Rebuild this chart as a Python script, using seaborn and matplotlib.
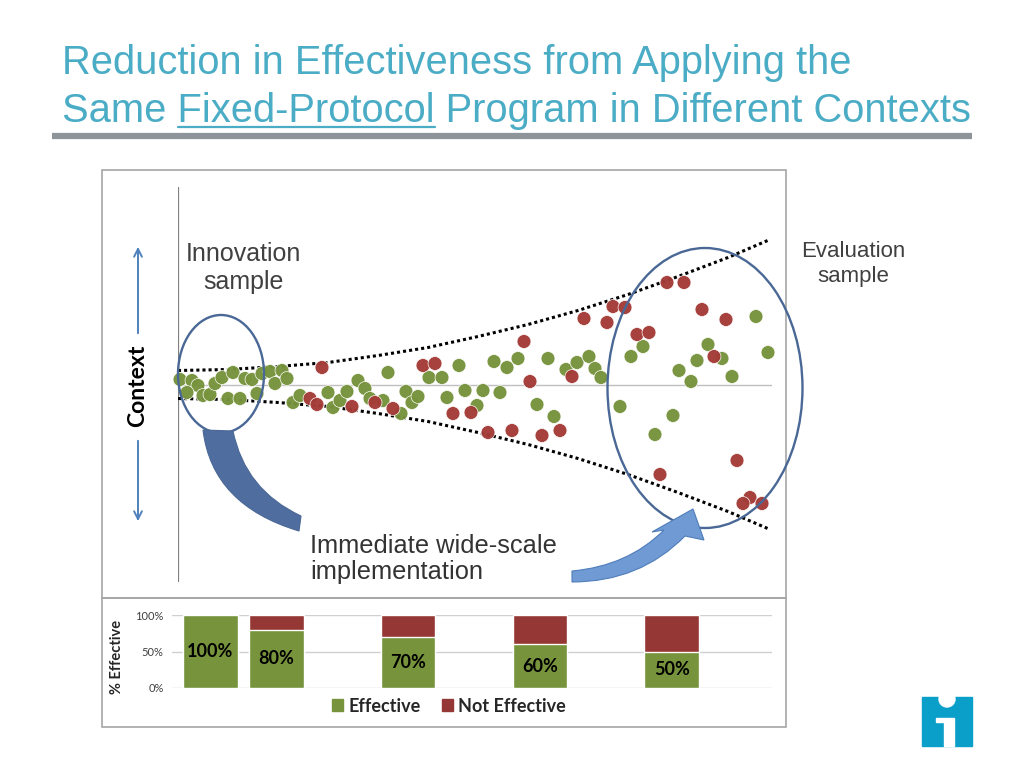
import matplotlib
matplotlib.use('Agg')
import matplotlib.pyplot as plt
import seaborn as sns
import pandas as pd
from matplotlib.patches import Ellipse, Rectangle, PathPatch, Circle, Patch
from matplotlib.path import Path

W, H = 1024, 768

# scatter data: position along the scale-up (x) and context deviation (y)
green_x = [2, 14, 20, 9, 25, 32, 37, 44, 55, 67, 74, 50, 62, 79, 84, 92, 97, 104, 109, 115,
           122, 150, 155, 162, 169, 180, 187, 192, 205, 210, 223, 228, 234, 240, 251, 264, 269,
           281, 287, 299, 305, 316, 322, 329, 340, 359, 370, 376, 388, 399, 411, 417, 423, 442,
           453, 465, 477, 495, 501, 513, 519, 530, 544, 554, 578, 590]
green_y = [5, 4, -1, -8, -11, -10, 1, 7, 12, 6, 5, -14, -14, -9, 11, 13, 1, 14, 6, -18,
           -11, -8, -23, -16, -7, 4, -4, -14, -16, 12, -29, -7, -18, -12, 7, 7, -13,
           19, -6, -21, -6, 23, -8, 17, 26, -20, 26, -32, 15, 22, 28, 16, 7, -22,
           28, 38, -50, -31, 14, 3, 24, 40, 26, 8, 68, 32]
red_x = [144, 132, 139, 174, 197, 215, 245, 257, 275, 293, 310, 334, 346, 352, 364, 382, 394,
         406, 429, 435, 447, 459, 471, 489, 506, 524, 536, 548, 482, 559, 572, 565, 584]
red_y = [17, -14, -20, -22, -18, -24, 19, 21, -29, -28, -48, -46, 43, 3, -51, -46, 8,
         66, 62, 78, 77, 50, 52, 102, 102, 75, 28, 65, -90, -76, -113, -119, -119]

# dotted envelope (half width of context spread)
env_x = [0, 50, 100, 150, 200, 250, 300, 350, 400, 450, 500, 550, 592]
env_half = [14, 15, 18, 22, 29, 37, 48, 60, 74, 90, 108, 127, 145]

# bar chart
bar_pos = [0, 1, 3, 5, 7]
effective = [100, 80, 70, 60, 50]
total = [100, 100, 100, 100, 100]
bar_labels = ['100%', '80%', '70%', '60%', '50%']

GREEN = '#77933C'
RED = '#A33B36'
BAR_RED = '#953735'
TITLE = '#4BACC6'
SHAPE = '#4A6896'

sns.set_style('white')
plt.rcParams['font.family'] = ['Liberation Sans', 'DejaVu Sans']
LATO = ['Lato', 'DejaVu Sans']

fig = plt.figure(figsize=(10.24, 7.68), dpi=100)


def fx(px):
    return px / W


def fy(py):
    return 1 - py / H


# ---- scatter panel
ax = fig.add_axes([fx(178), fy(582), 594 / W, 395 / H])
df = pd.DataFrame({
    'position': green_x + red_x,
    'context': green_y + red_y,
    'status': ['Effective'] * len(green_x) + ['Not Effective'] * len(red_x),
})
ax.axhline(0, color='#BFBFBF', lw=1, zorder=1)
ax.axvline(0, color='#808080', lw=1.6, zorder=1)
ax.plot(env_x, env_half, ls=(0, (1, 1)), color='black', lw=2.2, zorder=2)
ax.plot(env_x, [-v for v in env_half], ls=(0, (1, 1)), color='black', lw=2.2, zorder=2)
sns.scatterplot(data=df, x='position', y='context', hue='status',
                palette={'Effective': GREEN, 'Not Effective': RED},
                s=100, linewidth=0.5, edgecolor='white', alpha=0.97, legend=False, ax=ax,
                zorder=3, clip_on=False)
ax.set_xlim(0, 594)
ax.set_ylim(-197.5, 197.5)
ax.axis('off')

# ---- bar panel
axb = fig.add_axes([fx(172), fy(688), 600 / W, 73 / H])
sns.barplot(x=bar_pos, y=total, native_scale=True, color=BAR_RED, saturation=1,
            width=0.83, ax=axb, zorder=3)
sns.barplot(x=bar_pos, y=effective, native_scale=True, color=GREEN, saturation=1,
            width=0.83, ax=axb, zorder=3)
axb.bar_label(axb.containers[-1], labels=bar_labels, label_type='center',
              fontsize=13, fontweight='bold', family=LATO, color='black')
axb.set_xlim(-0.58, 8.52)
axb.set_ylim(0, 100)
axb.set_yticks([0, 50, 100])
axb.set_yticklabels(['0%', '50%', '100%'], fontsize=8, family=LATO, color='#404040')
axb.set_xticks([])
axb.set_xlabel('')
axb.set_ylabel('')
axb.yaxis.grid(True, color='#D0D0D0', lw=1)
axb.set_axisbelow(True)
axb.tick_params(axis='y', length=0, pad=6)
for s in axb.spines.values():
    s.set_visible(False)
fig.text(fx(117), fy(657), '% Effective', rotation=90, ha='center', va='center',
         fontsize=10.5, fontweight='bold', family=LATO)
fig.legend(handles=[Patch(color=GREEN), Patch(color=BAR_RED)],
           labels=['Effective', 'Not Effective'], ncol=2, loc='center',
           bbox_to_anchor=(fx(449), fy(706)), frameon=False,
           prop={'family': LATO, 'weight': 'bold', 'size': 13},
           handlelength=0.6, handleheight=0.6, columnspacing=1.2, handletextpad=0.3)

# ---- overlay in pixel units for the slide decorations
ov = fig.add_axes([0, 0, 1, 1], zorder=5)
ov.set_xlim(0, W)
ov.set_ylim(H, 0)
ov.axis('off')

ov.add_patch(Rectangle((102, 170), 684, 428, fill=False, ec='#A6A6A6', lw=1.2))
ov.add_patch(Rectangle((102, 598), 684, 129, fill=False, ec='#A6A6A6', lw=1.2))

TSIZE = 28.7
line1 = 'Reduction in Effectiveness from Applying the'
line2 = 'Same Fixed-Protocol Program in Different Contexts'
fig.text(fx(62), fy(74), line1, fontsize=TSIZE, color=TITLE, va='baseline')
fig.text(fx(62), fy(122), line2, fontsize=TSIZE, color=TITLE, va='baseline')
rend = fig.canvas.get_renderer()
tmp = fig.text(0, 0, 'Same Fixed-Protocol', fontsize=TSIZE)
w_full = tmp.get_window_extent(rend).width
tmp.set_text('Fixed-Protocol')
w_fp = tmp.get_window_extent(rend).width
tmp.remove()
ov.plot([62 + w_full - w_fp, 62 + w_full], [127, 127], color=TITLE, lw=1.6)
ov.plot([52, 972], [136, 136], color='#8E949A', lw=4.5, solid_capstyle='butt')

ov.add_patch(Ellipse((221, 374), 86, 118, fill=False, ec=SHAPE, lw=1.7))
ov.add_patch(Ellipse((705, 388), 195, 280, fill=False, ec=SHAPE, lw=1.7, clip_on=False))

tail = Path([(203, 430), (212, 505), (299, 531), (301, 516), (245, 490), (233, 431), (203, 430)],
            [Path.MOVETO, Path.CURVE3, Path.CURVE3, Path.LINETO, Path.CURVE3, Path.CURVE3,
             Path.CLOSEPOLY])
ov.add_patch(PathPatch(tail, fc='#4F6E9F', ec='#4A6896', lw=0.8))
arrow = Path([(572, 571), (628, 566), (664, 530), (652, 532), (693, 509), (704, 540),
              (685, 536), (640, 582), (572, 582), (572, 571)],
             [Path.MOVETO, Path.CURVE3, Path.CURVE3, Path.LINETO, Path.LINETO, Path.LINETO,
              Path.LINETO, Path.CURVE3, Path.CURVE3, Path.CLOSEPOLY])
ov.add_patch(PathPatch(arrow, fc='#6F9AD3', ec='#4F7DBA', lw=0.8))

ov.annotate('', xy=(138, 244), xytext=(138, 336),
            arrowprops=dict(arrowstyle='->', color='#4F81BD', lw=1.4, mutation_scale=14))
ov.annotate('', xy=(138, 524), xytext=(138, 438),
            arrowprops=dict(arrowstyle='->', color='#4F81BD', lw=1.4, mutation_scale=14))
ov.text(138, 386, 'Context', rotation=90, ha='center', va='center', fontsize=16.5,
        fontweight='bold', family=LATO, color='black')

ov.text(243, 268, 'Innovation\nsample', ha='center', va='center', fontsize=18, color='#404040')
ov.text(853, 264, 'Evaluation\nsample', ha='center', va='center', fontsize=16,
        color='#404040', linespacing=1.25)
ov.text(310, 559, 'Immediate wide-scale\nimplementation', ha='left', va='center',
        fontsize=18.3, color='#333333', linespacing=1.15)

# logo: white "i" cut out of a blue square
ov.add_patch(Rectangle((922, 697), 50, 49, color='#0A9FC9'))
ov.add_patch(Circle((947, 699), 8, color='white'))
ov.add_patch(Rectangle((944, 718), 10, 28, color='white'))
ov.add_patch(Rectangle((936, 718), 8, 4, color='white'))

fig.savefig('out.png', dpi=100)
